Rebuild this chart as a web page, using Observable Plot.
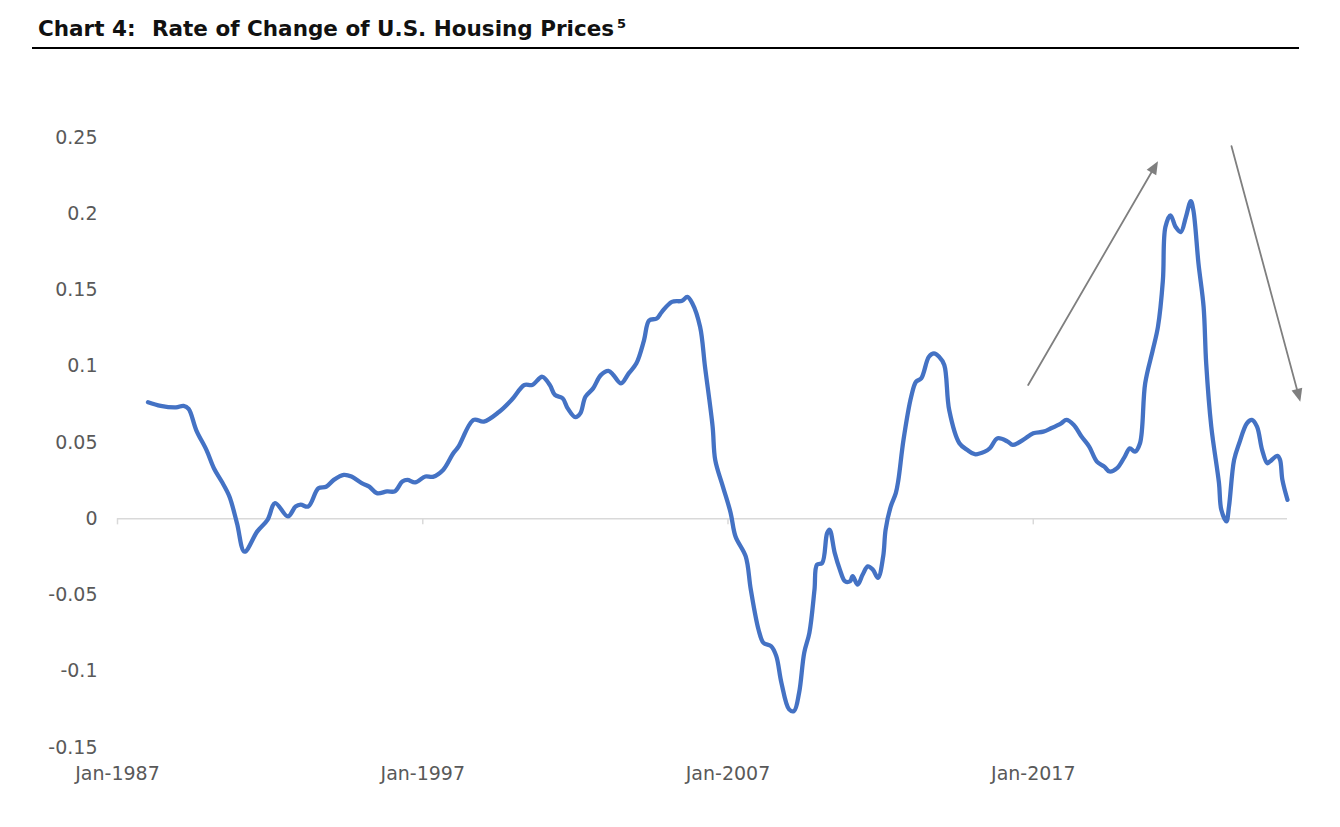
<!DOCTYPE html>
<html>
<head>
<meta charset="utf-8">
<script src="https://cdn.jsdelivr.net/npm/d3@7"></script>
<script src="https://cdn.jsdelivr.net/npm/@observablehq/plot@0.6"></script>
<style>
  html, body { margin: 0; padding: 0; background: #fff; }
  body { width: 1340px; height: 827px; position: relative; overflow: hidden; }
  #title {
    position: absolute; left: 38px; top: 18px;
    font-family: "DejaVu Sans", sans-serif; font-weight: bold;
    font-size: 21.5px; line-height: 22px; color: #111; white-space: nowrap;
  }
  #title .gap { display: inline-block; width: 9px; }
  #title sup { font-size: 13px; position: relative; top: -1px; margin-left: 3px; vertical-align: top; line-height: 1; }
  #rule { position: absolute; left: 32px; top: 46.5px; width: 1267px; height: 2.5px; background: #000; }
  #chart { position: absolute; left: 0; top: 60px; }
</style>
</head>
<body>
<div id="title">Chart 4:<span class="gap"></span> Rate of Change of U.S. Housing Prices<sup>5</sup></div>
<div id="rule"></div>
<div id="chart"></div>
<script>
// ---- Data ----
const months = [
  "1988-01","1988-06","1988-12",
  "1989-03","1989-05","1989-08","1989-12",
  "1990-03","1990-06","1990-09","1990-12",
  "1991-03","1991-08","1991-12",
  "1992-03","1992-08","1992-11",
  "1993-01","1993-04","1993-08","1993-11",
  "1994-02","1994-06","1994-09",
  "1995-01","1995-04","1995-07","1995-11",
  "1996-02","1996-05","1996-07","1996-10",
  "1997-02","1997-05","1997-09",
  "1998-01","1998-03","1998-09",
  "1999-01","1999-07","1999-12",
  "2000-05","2000-08","2000-12",
  "2001-03","2001-05","2001-08","2001-10",
  "2002-01","2002-03","2002-05","2002-08","2002-11",
  "2003-02","2003-04","2003-07","2003-10",
  "2004-01","2004-04","2004-06","2004-09","2004-11",
  "2005-03","2005-07","2005-09","2005-11",
  "2006-02","2006-04","2006-07","2006-08","2006-11",
  "2007-02","2007-04","2007-08","2007-10",
  "2008-01","2008-03","2008-06","2008-08","2008-10",
  "2009-01","2009-03","2009-05","2009-07","2009-09","2009-11","2009-12",
  "2010-02","2010-04","2010-05","2010-07","2010-09","2010-11",
  "2011-01","2011-02","2011-04","2011-06","2011-08","2011-10","2011-12",
  "2012-02","2012-03","2012-05","2012-07","2012-08","2012-10",
  "2013-01","2013-03","2013-05","2013-08","2013-10","2013-12",
  "2014-02","2014-04","2014-08","2014-11",
  "2015-02","2015-06","2015-08","2015-11",
  "2016-03","2016-05","2016-09",
  "2017-01","2017-05","2017-08","2017-12",
  "2018-02","2018-05","2018-08","2018-11",
  "2019-02","2019-05","2019-07","2019-10",
  "2020-01","2020-03","2020-05","2020-07","2020-09","2020-12",
  "2021-02","2021-04","2021-05","2021-07","2021-09","2021-11",
  "2022-01","2022-03","2022-04","2022-06","2022-08","2022-09","2022-11",
  "2023-02","2023-03","2023-05","2023-06","2023-08","2023-10",
  "2024-01","2024-03","2024-05","2024-07","2024-09","2024-10",
  "2025-01","2025-02","2025-03","2025-05"
];
const rateOfChange = [
  0.0764,0.074,0.073,
  0.074,0.072,0.058,0.045,
  0.033,0.0244,0.0146,-0.003,
  -0.0216,-0.0083,-0.0007,
  0.0103,0.0015,0.008,
  0.0092,0.008,0.020,0.021,
  0.0255,0.0288,0.0277,
  0.0234,0.0211,0.0168,0.0179,
  0.018,0.0244,0.0255,0.0238,
  0.0277,0.0275,0.032,
  0.043,0.047,0.0648,
  0.0637,0.070,0.078,
  0.0877,0.0877,0.0931,
  0.0877,0.0812,0.079,0.0724,
  0.0666,0.0691,0.080,0.0855,0.0942,
  0.097,0.0942,0.0888,0.0953,
  0.1019,0.117,0.130,0.1313,0.1357,
  0.1422,0.1429,0.1455,0.1412,
  0.1259,0.0997,0.0604,0.0386,0.0211,
  0.004,-0.0116,-0.0247,-0.0465,
  -0.0726,-0.0814,-0.0836,-0.0901,-0.1075,
  -0.125,-0.1261,-0.1141,-0.0879,-0.0748,-0.0465,-0.0301,
  -0.029,-0.0094,-0.0072,-0.0224,-0.0334,-0.041,
  -0.041,-0.0377,-0.0432,-0.0366,-0.0312,-0.0334,-0.0388,
  -0.0247,-0.0072,0.008,0.0168,0.0255,0.0517,
  0.080,0.0899,0.092,0.1062,0.1084,0.1062,
  0.1008,0.0713,0.0495,0.0452,
  0.0423,0.044,0.0462,0.0528,
  0.0506,0.0484,0.0517,
  0.056,0.0571,0.0593,0.0626,
  0.0648,0.0615,0.0539,0.0473,
  0.0375,0.0342,0.031,0.0332,
  0.0408,0.0462,0.044,0.0495,0.0888,0.1106,
  0.1259,0.1564,0.1913,0.199,0.1913,0.188,
  0.1978,0.2083,0.2022,0.1673,0.139,0.1019,0.0604,
  0.0234,0.0059,-0.0017,0.008,0.0386,0.0495,
  0.0626,0.0648,0.0604,0.0452,0.0364,0.0375,
  0.0412,0.0386,0.0255,0.0124
];
const yTicks = [-0.15, -0.1, -0.05, 0, 0.05, 0.1, 0.15, 0.2, 0.25];
const yTickLabels = ["-0.15", "-0.1", "-0.05", "0", "0.05", "0.1", "0.15", "0.2", "0.25"];
const xTickYears = [1987, 1997, 2007, 2017];
const xTickLabels = ["Jan-1987", "Jan-1997", "Jan-2007", "Jan-2017"];
const xStart = "1987-01";
// annotation arrows (start → end), in data units
const arrowFrom = [["2016-11", 0.0877], ["2023-07", 0.2443]];
const arrowTo   = [["2021-02", 0.2345], ["2025-10", 0.0768]];

// ---- Build ----
const parse = d3.utcParse("%Y-%m");
const series = months.map((m, i) => ({date: parse(m), value: rateOfChange[i]}));
const xTicks = xTickYears.map(y => new Date(Date.UTC(y, 0, 1)));
const xLabel = new Map(xTicks.map((d, i) => [+d, xTickLabels[i]]));
const yLabel = new Map(yTicks.map((d, i) => [d, yTickLabels[i]]));
const arrows = arrowFrom.map((f, i) => ({
  x1: parse(f[0]), y1: f[1], x2: parse(arrowTo[i][0]), y2: arrowTo[i][1]
}));

const GRAY = "#7f7f7f";
const fontFamily = "'DejaVu Sans', sans-serif";

const chart = Plot.plot({
  width: 1340,
  height: 747,
  marginTop: 77,
  marginBottom: 60,
  marginLeft: 117,
  marginRight: 53,
  style: {fontFamily, fontSize: "19px", color: "#595959", background: "transparent", overflow: "visible"},
  x: {type: "utc", domain: [parse(xStart), series[series.length - 1].date]},
  y: {domain: [-0.15, 0.25]},
  marks: [
    Plot.axisY(yTicks, {tickSize: 0, tickPadding: 20, tickFormat: d => yLabel.get(d), label: null, fill: "#595959", fontSize: 19}),
    Plot.axisX(xTicks, {tickSize: 0, tickPadding: 19, tickFormat: d => xLabel.get(+d), label: null, fill: "#595959", fontSize: 19}),
    Plot.ruleY([0], {stroke: "#d9d9d9", strokeWidth: 1.5}),
    Plot.ruleX(xTicks, {x: d => d, y1: 0, y2: -0.004, stroke: "#d9d9d9", strokeWidth: 1.5}),
    Plot.line(series, {x: "date", y: "value", stroke: "#4472C4", strokeWidth: 4.3, curve: "catmull-rom", strokeLinejoin: "round", strokeLinecap: "round"}),
    Plot.arrow(arrows, {
      x1: "x1", y1: "y1", x2: "x2", y2: "y2",
      stroke: GRAY, strokeWidth: 1.8, headLength: 0, insetEnd: 8,
      render(index, scales, values, dimensions, context, next) {
        const g = next(index, scales, values, dimensions, context);
        const {x1: X1, y1: Y1, x2: X2, y2: Y2} = values;
        for (const i of index) {
          const a = Math.atan2(Y2[i] - Y1[i], X2[i] - X1[i]);
          const L = 13, W = 5.5;
          const bx = X2[i] - L * Math.cos(a), by = Y2[i] - L * Math.sin(a);
          const px = -Math.sin(a) * W, py = Math.cos(a) * W;
          const p = document.createElementNS("http://www.w3.org/2000/svg", "path");
          p.setAttribute("d", `M${X2[i]},${Y2[i]}L${bx + px},${by + py}L${bx - px},${by - py}Z`);
          p.setAttribute("fill", GRAY);
          p.setAttribute("stroke", "none");
          g.appendChild(p);
        }
        return g;
      }
    })
  ]
});
document.getElementById("chart").appendChild(chart);
</script>
</body>
</html>
